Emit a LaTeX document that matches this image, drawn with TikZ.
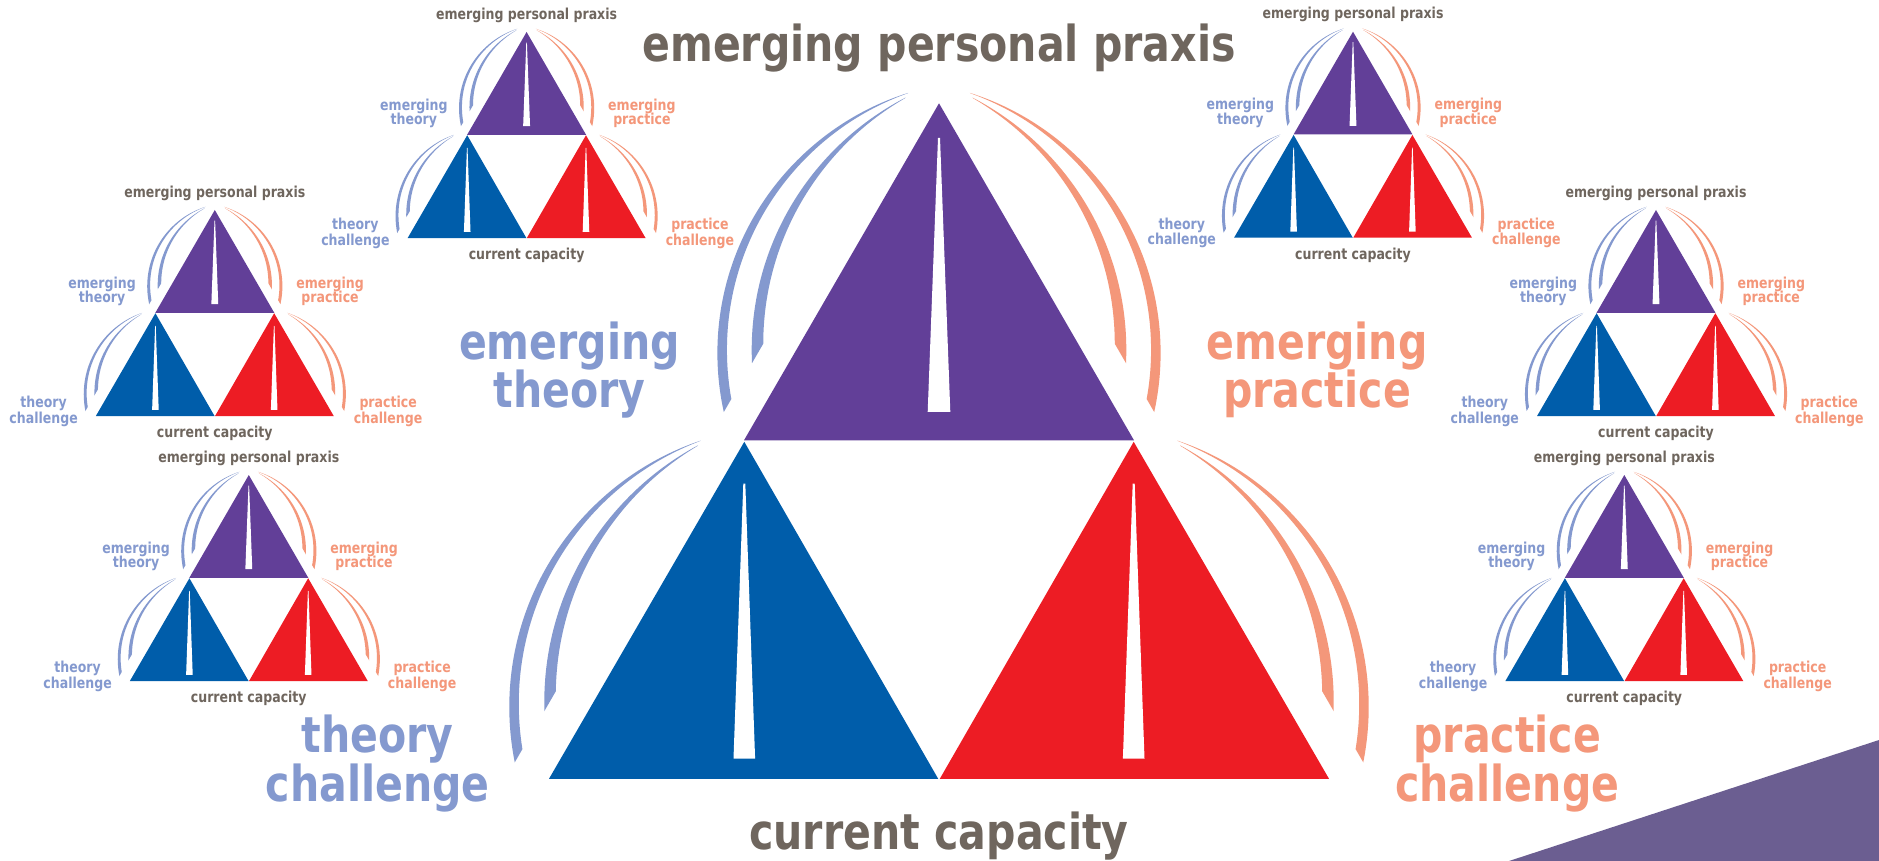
\documentclass[tikz,border=0pt]{standalone}
\usepackage{fontspec}
\newfontfamily\lbl{DejaVu Sans}[FakeStretch=0.83]
\definecolor{cgray}{HTML}{6F665E}
\definecolor{cltblue}{HTML}{8499CF}
\definecolor{corange}{HTML}{F4977A}
\definecolor{cpurple}{HTML}{623F98}
\definecolor{cblue}{HTML}{005DAA}
\definecolor{cred}{HTML}{ED1C24}
\definecolor{ccorner}{HTML}{6B5E91}
\tikzset{
  lab/.style={font=\lbl\bfseries\fontsize{24.75pt}{24.75pt}\selectfont, anchor=base, inner sep=0pt},
  labgray/.style={lab, text=cgray},
  labblue/.style={lab, text=cltblue},
  laborange/.style={lab, text=corange},
  slit/.style={fill=white}
}
% half-plane clip: points p with p.n >= #1, n=(-0.866,0.5)
\newcommand{\hpclip}[1]{\clip ({-0.866*#1+300},{0.5*#1+519.6}) -- ({-0.866*#1-300},{0.5*#1-519.6}) -- ({-0.866*#1-819.6},{0.5*#1-219.6}) -- ({-0.866*#1-219.6},{0.5*#1+819.6}) -- cycle;}
% crescent: outer circle minus shifted circle
\newcommand{\cres}[6]{\fill[#1, even odd rule] (#2,#3) circle[radius=#4] ({#2+#5},{#3+#6}) circle[radius=#4];}
\newcommand{\arcsPurple}[1]{%
  \hpclip{32}
  \cres{#1}{51}{-249.7}{272.6}{9.54}{3.01}
  \cres{#1}{96.6}{-246.7}{283.9}{11.54}{5.98}}
\newcommand{\arcsLower}[1]{%
  \hpclip{38.6}
  \cres{#1}{46}{-265}{281}{9.48}{3.19}
  \cres{#1}{91.1}{-260}{291.1}{11.46}{6.14}}
\newcommand{\composite}[4]{%
\begin{scope}[shift={(#2,#3)}, scale=#4, transform shape]
  \begin{scope}\arcsPurple{cltblue}\end{scope}
  \begin{scope}[xscale=-1]\arcsPurple{corange}\end{scope}
  \begin{scope}[shift={(-194.7,-338.7)}]\arcsLower{cltblue}\end{scope}
  \begin{scope}[shift={(194.7,-338.7)},xscale=-1]\arcsLower{corange}\end{scope}
  \fill[cpurple] (0,0) -- (-195,-337) -- (195,-337) -- cycle;
  \fill[slit] (-1,-34.5) -- (1,-34.5) -- (11.3,-308.5) -- (-11.3,-308.5) -- cycle;
  \fill[cblue] (-194.7,-338.5) -- (-390,-675.5) -- (-0.8,-675.5) -- cycle;
  \fill[slit] (-195.7,-380.3) -- (-193.7,-380.3) -- (-183.9,-655.3) -- (-205.5,-655.3) -- cycle;
  \fill[cred] (194.7,-338.5) -- (0.8,-675.5) -- (390,-675.5) -- cycle;
  \fill[slit] (195.7,-380.3) -- (193.7,-380.3) -- (183.9,-655.3) -- (205.5,-655.3) -- cycle;
  \node[labgray] (#1-epp) at (0,42) {emerging personal praxis};
  \node[labblue] (#1-et1) at (-369.5,-256.5) {emerging};
  \node[labblue] (#1-et2) at (-369.5,-304.5) {theory};
  \node[laborange] (#1-ep1) at (378,-256.5) {emerging};
  \node[laborange] (#1-ep2) at (378,-304.5) {practice};
  \node[labblue] (#1-tc1) at (-561.3,-648.7) {theory};
  \node[labblue] (#1-tc2) at (-561.3,-698.4) {challenge};
  \node[laborange] (#1-pc1) at (568.3,-648.7) {practice};
  \node[laborange] (#1-pc2) at (568.3,-698.4) {challenge};
  \node[labgray] (#1-cc) at (0,-745.7) {current capacity};
\end{scope}}
\begin{document}
\begin{tikzpicture}[x=0.5pt,y=0.5pt]
  \useasboundingbox (0,0) rectangle (1879,-861);
  \fill[white] (0,0) rectangle (1879,-861);
  \fill[ccorner] (1509,-861) -- (1879,-740) -- (1879,-861) -- cycle;
  \composite{big}{939}{-103.3}{1}
  \composite{tl}{526.6}{-32}{0.305}
  \composite{tr}{1353}{-31.7}{0.305}
  \composite{ml}{214.8}{-210}{0.305}
  \composite{mr}{1656}{-210}{0.305}
  \composite{bl}{248.8}{-475}{0.305}
  \composite{br}{1624.3}{-475}{0.305}
\end{tikzpicture}
\end{document}
